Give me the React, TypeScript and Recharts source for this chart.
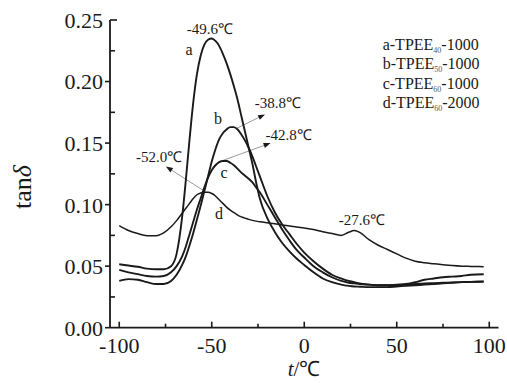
import React from 'react';
import { LineChart, Line, XAxis, YAxis, ReferenceDot, ReferenceLine } from 'recharts';

// temperature grid (°C) shared by all four tan δ curves
const temps = [
  -100, -95, -90, -85, -80, -76, -72, -69, -66, -64, -62, -60, -58, -56, -54, -52, -50, -48, -46, -44,
  -42, -40, -38, -36, -34, -32, -30, -28, -26, -24, -20, -16, -12, -8, -4, 0, 5, 10, 15, 20,
  24, 27, 30, 35, 40, 45, 50, 55, 60, 65, 70, 75, 80, 85, 90, 97,
];

// a-TPEE40-1000
const tanA = [
  0.0515, 0.0505, 0.0495, 0.048, 0.0475, 0.0475, 0.05, 0.06, 0.09, 0.12, 0.153, 0.183, 0.206, 0.221, 0.23, 0.234, 0.235, 0.233, 0.229, 0.2225,
  0.215, 0.206, 0.196, 0.185, 0.172, 0.159, 0.146, 0.133, 0.118, 0.105, 0.089, 0.078, 0.069, 0.062, 0.056, 0.051, 0.045, 0.04, 0.037, 0.035,
  0.034, 0.0335, 0.0333, 0.033, 0.033, 0.033, 0.0335, 0.034, 0.0345, 0.035, 0.0355, 0.036, 0.0365, 0.037, 0.0372, 0.0375,
];

// b-TPEE50-1000
const tanB = [
  0.038, 0.0395, 0.039, 0.037, 0.0355, 0.0355, 0.038, 0.043, 0.051, 0.058, 0.067, 0.077, 0.088, 0.099, 0.111, 0.123, 0.135, 0.145, 0.153, 0.158,
  0.161, 0.163, 0.163, 0.161, 0.157, 0.152, 0.146, 0.139, 0.131, 0.123, 0.107, 0.094, 0.084, 0.076, 0.068, 0.061, 0.054, 0.048, 0.043, 0.04,
  0.038, 0.037, 0.036, 0.035, 0.0345, 0.0345, 0.0345, 0.035, 0.0355, 0.036, 0.0362, 0.0365, 0.0368, 0.037, 0.0372, 0.0374,
];

// c-TPEE60-1000
const tanC = [
  0.047, 0.045, 0.0435, 0.042, 0.0415, 0.042, 0.045, 0.05, 0.058, 0.066, 0.076, 0.086, 0.096, 0.105, 0.114, 0.122, 0.128, 0.132, 0.1345, 0.1355,
  0.1355, 0.134, 0.132, 0.129, 0.126, 0.1235, 0.121, 0.118, 0.114, 0.11, 0.1, 0.09, 0.08, 0.071, 0.063, 0.057, 0.05, 0.045, 0.041, 0.038,
  0.0365, 0.036, 0.0355, 0.035, 0.0345, 0.0345, 0.035, 0.0355, 0.037, 0.039, 0.04, 0.041, 0.0415, 0.042, 0.043, 0.0434,
];

// d-TPEE60-2000
const tanD = [
  0.083, 0.079, 0.0765, 0.0748, 0.0748, 0.077, 0.082, 0.087, 0.093, 0.097, 0.101, 0.105, 0.108, 0.1095, 0.11, 0.11, 0.109, 0.107, 0.104, 0.101,
  0.098, 0.0955, 0.0935, 0.0915, 0.09, 0.089, 0.088, 0.0872, 0.0866, 0.086, 0.0852, 0.0845, 0.0835, 0.0827, 0.0818, 0.081, 0.0798, 0.078, 0.0765, 0.075,
  0.0775, 0.0789, 0.0775, 0.0715, 0.067, 0.0635, 0.06, 0.0565, 0.054, 0.0528, 0.052, 0.0512, 0.0505, 0.05, 0.0498, 0.0496,
];

const xTicks = [-100, -75, -50, -25, 0, 25, 50, 75, 100];
const yTicks = [0, 0.025, 0.05, 0.075, 0.1, 0.125, 0.15, 0.175, 0.2, 0.225, 0.25];

// peak temperature notes and curve letters, in data coordinates
const notes = [
  { t: -51, v: 0.243, text: '-49.6℃' },
  { t: -14.2, v: 0.1827, text: '-38.8℃' },
  { t: -8.5, v: 0.1567, text: '-42.8℃' },
  { t: -78.5, v: 0.1388, text: '-52.0℃' },
  { t: 31.2, v: 0.0876, text: '-27.6℃' },
];
const letters = [
  { t: -62.3, v: 0.226, text: 'a' },
  { t: -46.6, v: 0.17, text: 'b' },
  { t: -43.4, v: 0.126, text: 'c' },
  { t: -46.1, v: 0.093, text: 'd' },
];
const arrows = [
  { t1: -36.5, v1: 0.162, t2: -21.2, v2: 0.1733 },
  { t1: -43.8, v1: 0.136, t2: -18.2, v2: 0.15 },
  { t1: -53.6, v1: 0.1106, t2: -74.8, v2: 0.131 },
];
const legendItems = [
  { head: 'a-TPEE', sub: '40', tail: '-1000' },
  { head: 'b-TPEE', sub: '50', tail: '-1000' },
  { head: 'c-TPEE', sub: '60', tail: '-1000' },
  { head: 'd-TPEE', sub: '60', tail: '-2000' },
];

const rows = temps.map((t, i) => ({ t, a: tanA[i], b: tanB[i], c: tanC[i], d: tanD[i] }));

const serif = '"Liberation Serif", "Times New Roman", serif';
const ink = '#1a1a1a';

function XTick(props: any) {
  const { x, y, payload } = props;
  const major = payload.value % 50 === 0;
  return (
    <g>
      <line x1={x} x2={x} y1={y} y2={y - (major ? 6 : 4)} stroke={ink} strokeWidth={1.6} />
      {major && (
        <text x={x} y={y + 25} textAnchor="middle" fontFamily={serif} fontSize={22} fill={ink}>
          {payload.value}
        </text>
      )}
    </g>
  );
}

function YTick(props: any) {
  const { x, y, payload } = props;
  const v = payload.value;
  const major = Math.abs(v * 20 - Math.round(v * 20)) < 1e-6;
  const top = v > 0.249;
  let line;
  if (top) line = <line x1={x} x2={x + 7} y1={y} y2={y} stroke={ink} strokeWidth={1.6} />;
  else if (major) line = <line x1={x - 5} x2={x} y1={y} y2={y} stroke={ink} strokeWidth={1.6} />;
  else line = <line x1={x} x2={x + 5} y1={y} y2={y} stroke={ink} strokeWidth={1.6} />;
  return (
    <g>
      {line}
      {major && (
        <text x={x - 7} y={y} dy="0.36em" textAnchor="end" fontFamily={serif} fontSize={22} fill={ink}>
          {v.toFixed(2)}
        </text>
      )}
    </g>
  );
}

function Arrow(props: any) {
  const { x1, y1, x2, y2 } = props;
  const ang = Math.atan2(y2 - y1, x2 - x1);
  const len = 7;
  const half = 2.6;
  const bx = x2 - len * Math.cos(ang);
  const by = y2 - len * Math.sin(ang);
  const px = -Math.sin(ang) * half;
  const py = Math.cos(ang) * half;
  return (
    <g>
      <line x1={x1} y1={y1} x2={bx} y2={by} stroke="#9a9a9a" strokeWidth={1} />
      <polygon points={`${x2},${y2} ${bx + px},${by + py} ${bx - px},${by - py}`} fill={ink} />
    </g>
  );
}

export default function App() {
  return (
    <div style={{ position: 'absolute', left: 0, top: 0, width: 507, height: 383, background: '#fff' }}>
      <LineChart width={507} height={383} data={rows} margin={{ top: 20, right: 8.5, bottom: 25.3, left: 50 }}>
        <XAxis
          dataKey="t"
          type="number"
          domain={[-105, 105]}
          ticks={xTicks}
          interval={0}
          tick={<XTick />}
          tickSize={0}
          tickMargin={0}
          tickLine={false}
          axisLine={{ stroke: ink, strokeWidth: 1.8 }}
          height={30}
        />
        <YAxis
          type="number"
          domain={[0, 0.25]}
          ticks={yTicks}
          interval={0}
          tick={<YTick />}
          tickSize={0}
          tickMargin={0}
          tickLine={false}
          axisLine={{ stroke: ink, strokeWidth: 1.8 }}
          width={60}
        />
        {arrows.map((a, i) => (
          <ReferenceLine
            key={`ar${i}`}
            segment={[
              { x: a.t1, y: a.v1 },
              { x: a.t2, y: a.v2 },
            ]}
            shape={(p: any) => <Arrow {...p} />}
          />
        ))}
        <Line type="monotone" dataKey="a" stroke={ink} strokeWidth={1.9} dot={false} isAnimationActive={false} />
        <Line type="monotone" dataKey="b" stroke={ink} strokeWidth={1.9} dot={false} isAnimationActive={false} />
        <Line type="monotone" dataKey="c" stroke={ink} strokeWidth={1.9} dot={false} isAnimationActive={false} />
        <Line type="monotone" dataKey="d" stroke={ink} strokeWidth={1.5} dot={false} isAnimationActive={false} />
        {notes.map((n, i) => (
          <ReferenceDot
            key={`n${i}`}
            x={n.t}
            y={n.v}
            r={0}
            shape={(p: any) => (
              <text x={p.cx} y={p.cy} dy="0.35em" textAnchor="middle" fontFamily={serif} fontSize={15} fill={ink}>
                {n.text}
              </text>
            )}
          />
        ))}
        {letters.map((n, i) => (
          <ReferenceDot
            key={`l${i}`}
            x={n.t}
            y={n.v}
            r={0}
            shape={(p: any) => (
              <text x={p.cx} y={p.cy} dy="0.35em" textAnchor="middle" fontFamily={serif} fontSize={16} fill={ink}>
                {n.text}
              </text>
            )}
          />
        ))}
      </LineChart>
      <svg width={507} height={383} style={{ position: 'absolute', left: 0, top: 0, pointerEvents: 'none' }}>
        {legendItems.map((it, i) => (
          <text key={i} x={382.7} y={50 + i * 19.3} fontFamily={serif} fontSize={16} fill={ink}>
            {it.head}
            <tspan fontSize={8} dy={3} fill="#555">{it.sub}</tspan>
            <tspan dy={-3}>{it.tail}</tspan>
          </text>
        ))}
        <text x={304} y={376} textAnchor="middle" fontFamily={serif} fontSize={21} fill={ink}>
          <tspan fontStyle="italic">t</tspan>/℃
        </text>
        <text
          x={0}
          y={0}
          transform="translate(31,187) rotate(-90)"
          textAnchor="middle"
          fontFamily={serif}
          fontSize={26}
          fill={ink}
        >
          tan<tspan fontStyle="italic">δ</tspan>
        </text>
      </svg>
    </div>
  );
}
